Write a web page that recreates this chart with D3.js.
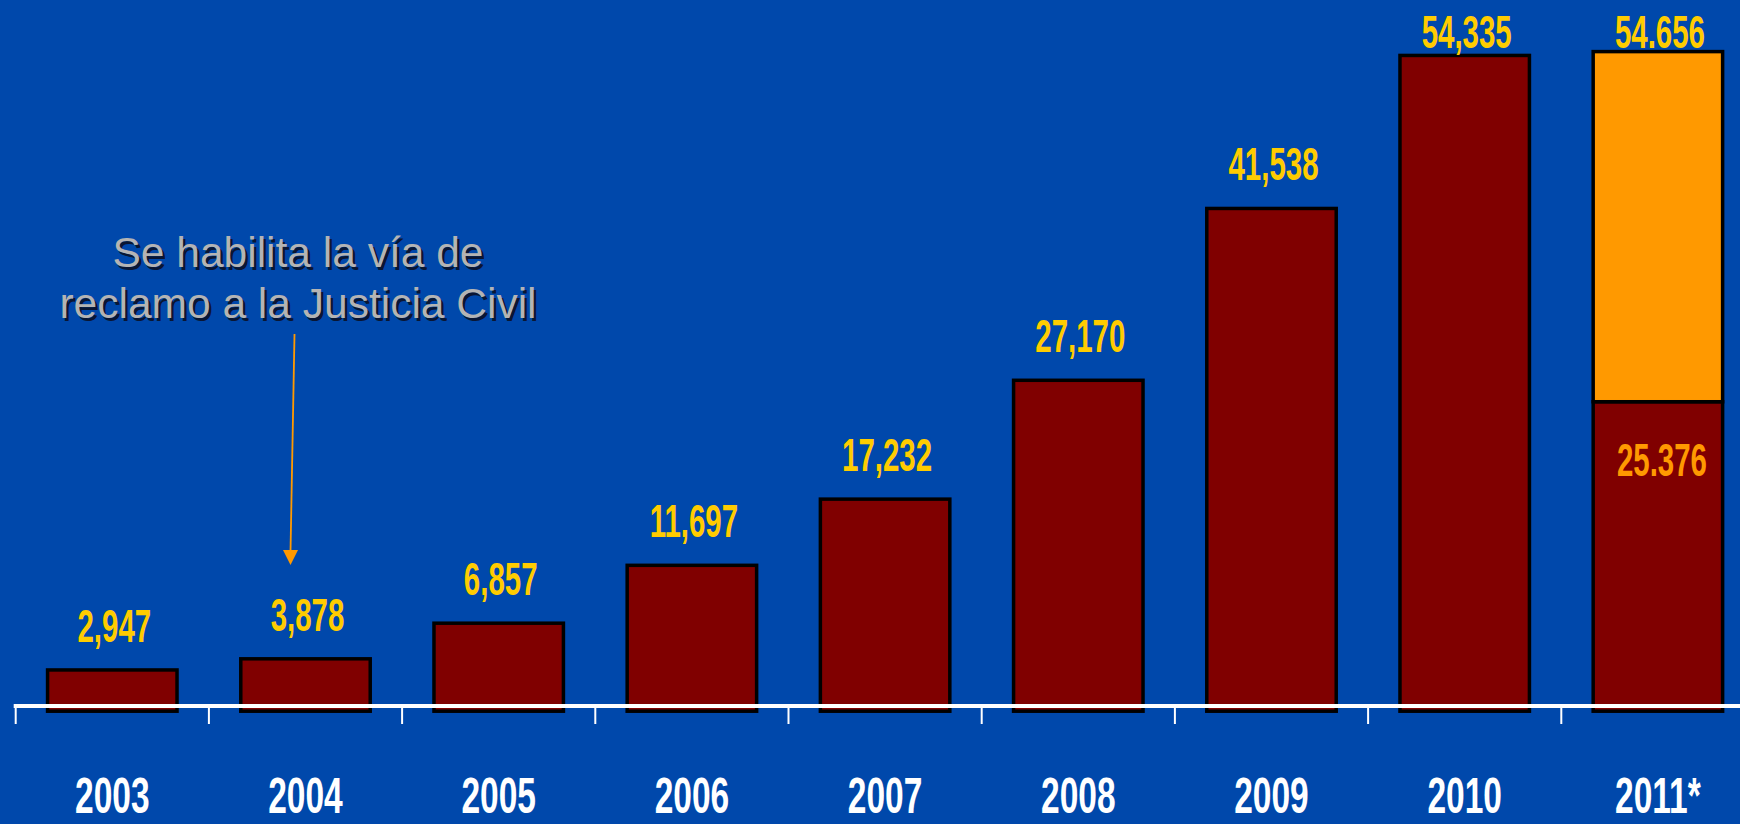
<!DOCTYPE html>
<html>
<head>
<meta charset="utf-8">
<script src="https://cdn.jsdelivr.net/npm/d3@7"></script>
<style>
  html, body { margin: 0; padding: 0; background: #0048AB; overflow: hidden; }
  svg { display: block; }
</style>
</head>
<body>
<svg id="chart" width="1740" height="824"></svg>
<script>
// ---- data ----
const years = ["2003", "2004", "2005", "2006", "2007", "2008", "2009", "2010", "2011*"];
const baseValues = [2947, 3878, 6857, 11697, 17232, 27170, 41538, 54335, 25376];
const extraValues = [0, 0, 0, 0, 0, 0, 0, 0, 29280];
const totalLabels = ["2,947", "3,878", "6,857", "11,697", "17,232", "27,170", "41,538", "54,335", "54.656"];
const innerLabels = ["", "", "", "", "", "", "", "", "25.376"];
const annotationLines = ["Se habilita la vía de", "reclamo a la Justicia Civil"];

// ---- font detection ----
function measure(font, txt) {
  const c = document.createElement("canvas").getContext("2d");
  c.font = font; return c.measureText(txt).width;
}
const narrowOK = Math.abs(measure('bold 46px "Liberation Sans Narrow", monospace', "2003") -
                          measure('bold 46px monospace', "2003")) > 0.5;
const narrowFont = narrowOK ? '"Liberation Sans Narrow", "Arial Narrow", sans-serif' : '"Liberation Sans", Arial, sans-serif';
const valueScaleX = narrowOK ? 0.78 : 0.64;
const yearScaleX = narrowOK ? 0.81 : 0.67;

const table = years.map((y, i) => ({ year: y, base: baseValues[i], extra: extraValues[i], label: totalLabels[i], inner: innerLabels[i] }));
const stack = d3.stack().keys(["base", "extra"])(table);

const svg = d3.select("#chart");
const W = 1740, H = 824;
svg.append("rect").attr("width", W).attr("height", H).attr("fill", "#0048AB");

const x = d3.scaleBand().domain(years).range([15.7, 15.7 + 9 * 193.2]).paddingInner(0.33).paddingOuter(0.165);
const y = d3.scaleLinear().domain([0, 54656]).range([705.2, 51.6]);
const colors = { base: "#800000", extra: "#FF9900" };
const bottomExtra = 6;

// bars
stack.forEach(layer => {
  svg.append("g").selectAll("rect")
    .data(layer.filter(d => d[1] > d[0]))
    .join("rect")
    .attr("x", d => x(d.data.year))
    .attr("width", x.bandwidth())
    .attr("y", d => y(d[1]))
    .attr("height", d => y(d[0]) - y(d[1]) + (d[0] === 0 ? bottomExtra : 0))
    .attr("fill", colors[layer.key])
    .attr("stroke", "#000")
    .attr("stroke-width", 3.5);
});

// axis line and ticks
const axisY = 706;
svg.append("line").attr("x1", 13.7).attr("x2", W).attr("y1", axisY).attr("y2", axisY)
  .attr("stroke", "#fff").attr("stroke-width", 4.2);
svg.append("g").selectAll("line").data(years).join("line")
  .attr("x1", d => x(d) - x.step() * x.paddingOuter())
  .attr("x2", d => x(d) - x.step() * x.paddingOuter())
  .attr("y1", axisY).attr("y2", axisY + 18)
  .attr("stroke", "#fff").attr("stroke-width", 2);

// year labels
svg.append("g").selectAll("text").data(years).join("text")
  .attr("transform", d => `translate(${x(d) + x.bandwidth() / 2},813) scale(${yearScaleX},1)`)
  .attr("text-anchor", "middle")
  .attr("font-family", narrowFont).attr("font-weight", "bold").attr("font-size", 50)
  .attr("fill", "#fff")
  .text(d => d);

// total labels
const totals = table.map(d => ({ year: d.year, total: d.base + d.extra, label: d.label }));
svg.append("g").selectAll("text").data(totals).join("text")
  .attr("transform", d => `translate(${x(d.year) + x.bandwidth() / 2 + 2},${Math.max(y(d.total) - 28, 48)}) scale(${valueScaleX},1)`)
  .attr("text-anchor", "middle")
  .attr("font-family", narrowFont).attr("font-weight", "bold").attr("font-size", 46)
  .attr("fill", "#FFCC00")
  .text(d => d.label);

// inner label
svg.append("g").selectAll("text").data(table.filter(d => d.inner)).join("text")
  .attr("transform", d => `translate(${x(d.year) + x.bandwidth() / 2 + 4},${y(d.base) + 74}) scale(${valueScaleX},1)`)
  .attr("text-anchor", "middle")
  .attr("font-family", narrowFont).attr("font-weight", "bold").attr("font-size", 46)
  .attr("fill", "#FF9900")
  .text(d => d.inner);

// annotation
const annX = 298;
const ann = svg.append("g");
annotationLines.forEach((t, i) => {
  ann.append("text").attr("x", annX + 2.5).attr("y", 267 + i * 51 + 2.5)
    .attr("text-anchor", "middle").attr("font-family", '"Liberation Sans", Arial, sans-serif')
    .attr("font-size", 42.5).attr("fill", "#0a1633").text(t);
  ann.append("text").attr("x", annX).attr("y", 267 + i * 51)
    .attr("text-anchor", "middle").attr("font-family", '"Liberation Sans", Arial, sans-serif')
    .attr("font-size", 42.5).attr("fill", "#B4B4B4").text(t);
});
const ax = x("2004") + x.bandwidth() / 2;
ann.append("line").attr("x1", ax - 11).attr("y1", 334).attr("x2", ax - 15).attr("y2", 552)
  .attr("stroke", "#FF9900").attr("stroke-width", 1.8);
ann.append("path")
  .attr("d", `M${ax - 22.5},550 L${ax - 7.5},550 L${ax - 15},565 Z`)
  .attr("fill", "#FF9900");
</script>
</body>
</html>
